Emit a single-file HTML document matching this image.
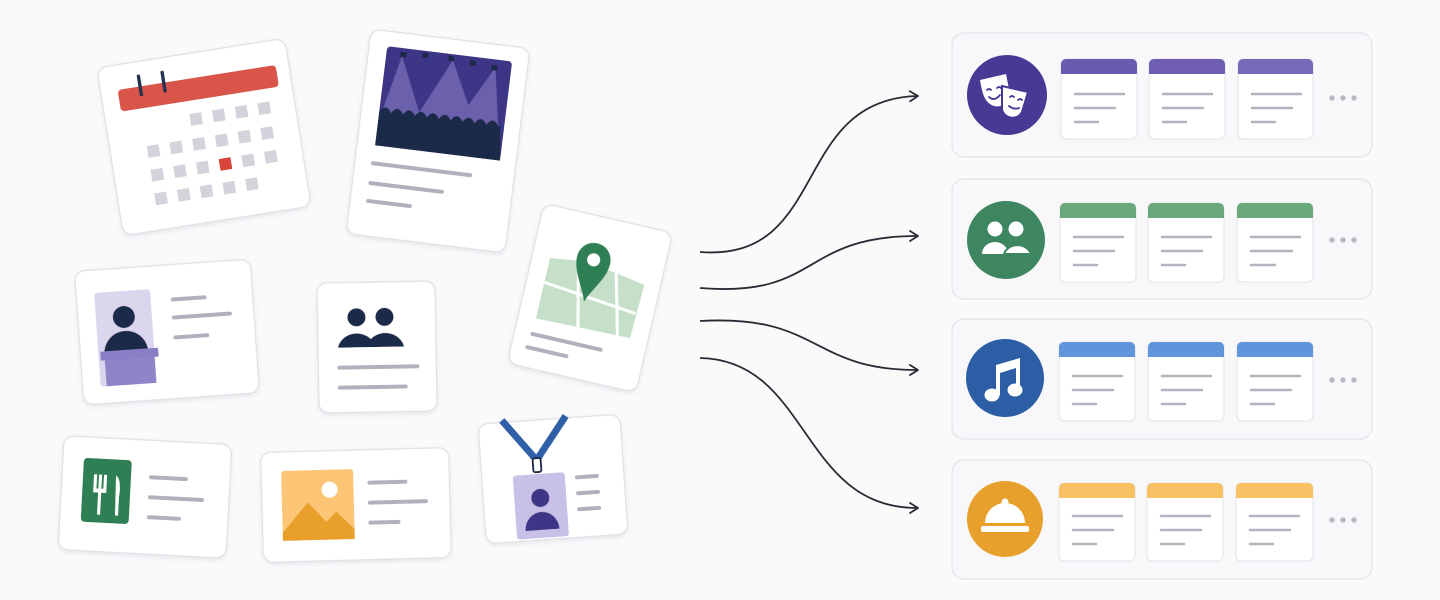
<!DOCTYPE html>
<html><head><meta charset="utf-8"><style>
html,body{margin:0;padding:0;background:#fafafb;}
svg{display:block;}
</style></head><body>
<svg width="1440" height="600" viewBox="0 0 1440 600" xmlns="http://www.w3.org/2000/svg">
<defs>
<filter id="sh" x="-20%" y="-20%" width="140%" height="140%"><feDropShadow dx="0" dy="2" stdDeviation="2.5" flood-color="#8a8aa0" flood-opacity="0.18"/></filter>
<marker id="ah" markerWidth="12" markerHeight="12" refX="9" refY="6" orient="auto" markerUnits="userSpaceOnUse"><path d="M2,1 L10,6 L2,11" fill="none" stroke="#2a2a35" stroke-width="1.8" stroke-linecap="round" stroke-linejoin="round"/></marker>
</defs>
<rect width="1440" height="600" fill="#fafafb"/>

<g stroke="#b1b0bd" stroke-width="4" stroke-linecap="round" fill="none" id="dummy"></g>

<!-- Calendar card -->
<g transform="translate(204,137) rotate(-9)" filter="url(#sh)">
<rect x="-95" y="-85" width="190" height="170" rx="10" fill="#fff" stroke="#e0dfe8" stroke-width="1.2"/>
<rect x="-78" y="-60" width="160" height="22" rx="4" fill="#d9554a"/>
<rect x="-57" y="-72" width="3.5" height="22" rx="1.5" fill="#23304f"/>
<rect x="-33" y="-72" width="3.5" height="22" rx="1.5" fill="#23304f"/>
<g fill="#d3d3dc">
<rect x="-11" y="-25" width="12" height="12"/><rect x="12" y="-25" width="12" height="12"/><rect x="35" y="-25" width="12" height="12"/><rect x="58" y="-25" width="12" height="12"/>
<rect x="-58" y="0" width="12" height="12"/><rect x="-35" y="0" width="12" height="12"/><rect x="-12" y="0" width="12" height="12"/><rect x="11" y="0" width="12" height="12"/><rect x="34" y="0" width="12" height="12"/><rect x="57" y="0" width="12" height="12"/>
<rect x="-58" y="24" width="12" height="12"/><rect x="-35" y="24" width="12" height="12"/><rect x="-12" y="24" width="12" height="12"/><rect x="34" y="24" width="12" height="12"/><rect x="57" y="24" width="12" height="12"/>
<rect x="-58" y="48" width="12" height="12"/><rect x="-35" y="48" width="12" height="12"/><rect x="-12" y="48" width="12" height="12"/><rect x="11" y="48" width="12" height="12"/><rect x="34" y="48" width="12" height="12"/>
</g>
<rect x="11" y="24" width="12" height="12" fill="#d9453a"/>
</g>

<!-- Concert card -->
<g transform="translate(438,141) rotate(7)" filter="url(#sh)">
<rect x="-80" y="-103" width="160" height="206" rx="10" fill="#fff" stroke="#e0dfe8" stroke-width="1.2"/>
<rect x="-62" y="-88" width="126" height="100" rx="4" fill="#3d3585"/>
<path d="M-46,-80 L-62,-10 L-15,-10 Z M5,-82 L-30,-10 L40,-10 Z M48,-80 L10,-10 L60,-10 Z" fill="#8a7fc6" opacity="0.6"/>
<g fill="#1e2a4a"><rect x="-48" y="-84" width="6" height="5"/><rect x="-26" y="-86" width="6" height="5"/><rect x="0" y="-86" width="6" height="5"/><rect x="22" y="-84" width="6" height="5"/><rect x="44" y="-82" width="6" height="5"/></g>
<path d="M-62,-22 q6,-10 12,0 q6,-10 12,0 q6,-10 12,0 q6,-10 12,0 q6,-10 12,0 q6,-10 12,0 q6,-10 12,0 q6,-10 12,0 q6,-10 12,0 q6,-10 12,0 l2,0 L64,12 L-62,12 Z" fill="#1e2a4a"/>
<g stroke="#b1b0bd" stroke-width="4" stroke-linecap="round"><line x1="-62" y1="30" x2="36" y2="30"/><line x1="-62" y1="50" x2="10" y2="50"/><line x1="-62" y1="68" x2="-20" y2="68"/></g>
</g>

<!-- Map card -->
<g transform="translate(590,298) rotate(13)" filter="url(#sh)">
<rect x="-66" y="-82" width="132" height="164" rx="10" fill="#fff" stroke="#e0dfe8" stroke-width="1.2"/>
<path d="M-48,-30 L-10,-35 L50,-25 L48,30 L-48,32 Z" fill="#c5dfc8"/>
<g stroke="#fff" stroke-width="3"><line x1="-48" y1="-5" x2="48" y2="5"/><line x1="-20" y1="-35" x2="-5" y2="32"/><line x1="20" y1="-30" x2="35" y2="30"/></g>
<path d="M-5,5 C-10,-10 -22,-22 -22,-38 A17,17 0 0 1 12,-38 C12,-22 0,-10 -5,5 Z" fill="#2f7f52"/>
<circle cx="-5" cy="-38" r="6.5" fill="#fff"/>
<g stroke="#b1b0bd" stroke-width="4" stroke-linecap="round"><line x1="-48" y1="48" x2="22" y2="48"/><line x1="-50" y1="62" x2="-10" y2="62"/></g>
</g>

<!-- Speaker card -->
<g transform="translate(167,332) rotate(-4)" filter="url(#sh)">
<rect x="-88" y="-67" width="176" height="134" rx="10" fill="#fff" stroke="#e0dfe8" stroke-width="1.2"/>
<rect x="-70" y="-44" width="56" height="94" rx="3" fill="#dcd5ee"/>
<circle cx="-42" cy="-18" r="11" fill="#1e2a4a"/>
<path d="M-64,18 A22,22 0 0 1 -20,18 Z" fill="#1e2a4a"/>
<rect x="-68" y="15" width="58" height="9" fill="#8a7fc6"/>
<rect x="-64" y="24" width="50" height="26" fill="#8f84c8"/>
<g stroke="#b1b0bd" stroke-width="4" stroke-linecap="round"><line x1="8" y1="-32" x2="40" y2="-32"/><line x1="8" y1="-14" x2="64" y2="-14"/><line x1="8" y1="6" x2="40" y2="6"/></g>
</g>

<!-- People card -->
<g transform="translate(377,347) rotate(-1)" filter="url(#sh)">
<rect x="-59" y="-65" width="118" height="130" rx="10" fill="#fff" stroke="#e0dfe8" stroke-width="1.2"/>
<g fill="#1e2a4a"><circle cx="-20" cy="-30" r="9"/><circle cx="8" cy="-30" r="9"/><path d="M-39,0 A19,17 0 0 1 -6,-8 A19,17 0 0 1 27,0 Z"/></g>
<g stroke="#b1b0bd" stroke-width="4" stroke-linecap="round"><line x1="-38" y1="20" x2="40" y2="20"/><line x1="-38" y1="40" x2="28" y2="40"/></g>
</g>

<!-- Restaurant card -->
<g transform="translate(145,497) rotate(3)" filter="url(#sh)">
<rect x="-84" y="-57" width="168" height="114" rx="10" fill="#fff" stroke="#e0dfe8" stroke-width="1.2"/>
<rect x="-63" y="-36" width="48" height="64" rx="4" fill="#2f7f52"/>
<g fill="#fff"><rect x="-52" y="-20" width="3" height="16"/><rect x="-47" y="-20" width="3" height="16"/><rect x="-42" y="-20" width="3" height="16"/><rect x="-52" y="-6" width="13" height="4"/><rect x="-47" y="-6" width="3" height="26"/><path d="M-30,-20 q6,4 4,22 l0,18 h-3 Z"/></g>
<g stroke="#b1b0bd" stroke-width="4" stroke-linecap="round"><line x1="5" y1="-20" x2="40" y2="-20"/><line x1="5" y1="0" x2="57" y2="0"/><line x1="5" y1="20" x2="35" y2="20"/></g>
</g>

<!-- Image card -->
<g transform="translate(356,505) rotate(-1.5)" filter="url(#sh)">
<rect x="-94" y="-55" width="188" height="110" rx="10" fill="#fff" stroke="#e0dfe8" stroke-width="1.2"/>
<rect x="-74" y="-36" width="72" height="70" rx="3" fill="#fdc676"/>
<circle cx="-26" cy="-16" r="8" fill="#fff"/>
<path d="M-74,26 L-48,-4 L-30,16 L-20,6 L-2,24 L-2,34 L-74,34 Z" fill="#e8a02c"/>
<g stroke="#b1b0bd" stroke-width="4" stroke-linecap="round"><line x1="14" y1="-22" x2="50" y2="-22"/><line x1="14" y1="-2" x2="70" y2="-2"/><line x1="14" y1="18" x2="42" y2="18"/></g>
</g>

<!-- Badge card -->
<g transform="translate(553,479) rotate(-4)" filter="url(#sh)">
<rect x="-71" y="-60" width="142" height="120" rx="10" fill="#fff" stroke="#e0dfe8" stroke-width="1.2"/>
<path d="M-47,-62 L-15,-20 L17,-62" fill="none" stroke="#2d5fa8" stroke-width="7"/>
<rect x="-19" y="-22" width="8" height="14" rx="2" fill="#fff" stroke="#1e2a4a" stroke-width="2"/>
<rect x="-40" y="-6" width="52" height="64" rx="3" fill="#c9c0e8"/>
<circle cx="-14" cy="18" r="9" fill="#3d3585"/>
<path d="M-31,50 A17,18 0 0 1 3,50 Z" fill="#3d3585"/>
<g stroke="#b1b0bd" stroke-width="4" stroke-linecap="round"><line x1="24" y1="0" x2="44" y2="0"/><line x1="24" y1="16" x2="44" y2="16"/><line x1="24" y1="32" x2="44" y2="32"/></g>
</g>

<!-- Arrows -->
<g fill="none" stroke="#2a2a35" stroke-width="1.8" marker-end="url(#ah)">
<path d="M700,252 C830,262 790,100 917,96"/>
<path d="M700,288 C820,298 800,236 917,236"/>
<path d="M700,321 C820,314 810,370 917,370"/>
<path d="M700,358 C810,360 800,508 917,508"/>
</g>

<!-- Right rows -->
<g id="rows">
<rect x="952" y="33" width="420" height="124" rx="12" fill="#f8f8fa" stroke="#e3e2ea" stroke-width="1.2"/>
<rect x="952" y="179" width="420" height="120" rx="12" fill="#f8f8fa" stroke="#e3e2ea" stroke-width="1.2"/>
<rect x="952" y="319" width="420" height="120" rx="12" fill="#f8f8fa" stroke="#e3e2ea" stroke-width="1.2"/>
<rect x="952" y="460" width="420" height="119" rx="12" fill="#f8f8fa" stroke="#e3e2ea" stroke-width="1.2"/>
</g>

<!-- row1 -->
<circle cx="1007" cy="95" r="40" fill="#463a94"/>
<g fill="#fff">
<path d="M980,80 L1006,74 L1010,94 C1010,104 998,110 990,104 C984,100 982,92 980,80 Z"/>
<path d="M1002,86 L1028,92 L1022,112 C1018,120 1006,120 1002,110 Z" stroke="#463a94" stroke-width="2"/>
</g>
<g fill="none" stroke="#463a94" stroke-width="1.8" stroke-linecap="round"><path d="M987,90 q2,-2 4,0 M997,88 q2,-2 4,0 M989,97 q5,5 11,-2"/><path d="M1010,97 q2,-2 4,0 M1018,100 q2,-2 4,0 M1009,106 q5,4 10,2"/></g>

<!-- row2 -->
<circle cx="1006" cy="240" r="39" fill="#3e8660"/>
<g fill="#fff"><circle cx="995" cy="229" r="7.5"/><circle cx="1016" cy="229" r="7.5"/><path d="M982,254 A13,12 0 0 1 1008,254 Z"/><path d="M1004,254 A14,12 0 0 1 1031,254 Z" stroke="#3e8660" stroke-width="2"/></g>

<!-- row3 -->
<circle cx="1005" cy="378" r="39" fill="#2b5ea5"/>
<g fill="#fff"><path d="M996,365 L1020,358 L1020,390 h-4 L1016,368 L1000,373 L1000,395 h-4 Z"/><ellipse cx="992" cy="395" rx="7.5" ry="6.5"/><ellipse cx="1015" cy="390" rx="7.5" ry="6.5"/></g>

<!-- row4 -->
<circle cx="1005" cy="519" r="38" fill="#e8a02c"/>
<g fill="#fff"><circle cx="1005" cy="502" r="3.5"/><path d="M985,523 A20,20 0 0 1 1025,523 Z"/><rect x="981" y="526" width="48" height="6" rx="2"/></g>

<!-- mini cards -->
<g id="minis">
<g>
<rect x="1061" y="59" width="76" height="80" rx="5" fill="#fff" stroke="#e3e2ea"/><path d="M1061,74 V64 a5,5 0 0 1 5,-5 h66 a5,5 0 0 1 5,5 V74 Z" fill="#6b5bb0"/>
<rect x="1149" y="59" width="76" height="80" rx="5" fill="#fff" stroke="#e3e2ea"/><path d="M1149,74 V64 a5,5 0 0 1 5,-5 h66 a5,5 0 0 1 5,5 V74 Z" fill="#6e5db1"/>
<rect x="1238" y="59" width="75" height="80" rx="5" fill="#fff" stroke="#e3e2ea"/><path d="M1238,74 V64 a5,5 0 0 1 5,-5 h65 a5,5 0 0 1 5,5 V74 Z" fill="#7868b8"/>
</g>
<g>
<rect x="1060" y="203" width="76" height="79" rx="5" fill="#fff" stroke="#e3e2ea"/><path d="M1060,218 V208 a5,5 0 0 1 5,-5 h66 a5,5 0 0 1 5,5 V218 Z" fill="#6aa97c"/>
<rect x="1148" y="203" width="76" height="79" rx="5" fill="#fff" stroke="#e3e2ea"/><path d="M1148,218 V208 a5,5 0 0 1 5,-5 h66 a5,5 0 0 1 5,5 V218 Z" fill="#6aa97c"/>
<rect x="1237" y="203" width="76" height="79" rx="5" fill="#fff" stroke="#e3e2ea"/><path d="M1237,218 V208 a5,5 0 0 1 5,-5 h66 a5,5 0 0 1 5,5 V218 Z" fill="#6aa97c"/>
</g>
<g>
<rect x="1059" y="342" width="76" height="79" rx="5" fill="#fff" stroke="#e3e2ea"/><path d="M1059,357 V347 a5,5 0 0 1 5,-5 h66 a5,5 0 0 1 5,5 V357 Z" fill="#5f95db"/>
<rect x="1148" y="342" width="76" height="79" rx="5" fill="#fff" stroke="#e3e2ea"/><path d="M1148,357 V347 a5,5 0 0 1 5,-5 h66 a5,5 0 0 1 5,5 V357 Z" fill="#5f95db"/>
<rect x="1237" y="342" width="76" height="79" rx="5" fill="#fff" stroke="#e3e2ea"/><path d="M1237,357 V347 a5,5 0 0 1 5,-5 h66 a5,5 0 0 1 5,5 V357 Z" fill="#5f95db"/>
</g>
<g>
<rect x="1059" y="483" width="76" height="78" rx="5" fill="#fff" stroke="#e3e2ea"/><path d="M1059,498 V488 a5,5 0 0 1 5,-5 h66 a5,5 0 0 1 5,5 V498 Z" fill="#f8c264"/>
<rect x="1147" y="483" width="76" height="78" rx="5" fill="#fff" stroke="#e3e2ea"/><path d="M1147,498 V488 a5,5 0 0 1 5,-5 h66 a5,5 0 0 1 5,5 V498 Z" fill="#f8c264"/>
<rect x="1236" y="483" width="77" height="78" rx="5" fill="#fff" stroke="#e3e2ea"/><path d="M1236,498 V488 a5,5 0 0 1 5,-5 h67 a5,5 0 0 1 5,5 V498 Z" fill="#f8c264"/>
</g>
</g>

<g stroke="#b4b3c0" stroke-width="2.5" stroke-linecap="round">
<!-- row1 lines -->
<path d="M1075,94 H1124 M1075,108 H1115 M1075,122 H1098"/>
<path d="M1163,94 H1212 M1163,108 H1203 M1163,122 H1186"/>
<path d="M1252,94 H1301 M1252,108 H1292 M1252,122 H1275"/>
<!-- row2 -->
<path d="M1074,237 H1123 M1074,251 H1114 M1074,265 H1097"/>
<path d="M1162,237 H1211 M1162,251 H1202 M1162,265 H1185"/>
<path d="M1251,237 H1300 M1251,251 H1292 M1251,265 H1275"/>
<!-- row3 -->
<path d="M1073,376 H1122 M1073,390 H1113 M1073,404 H1096"/>
<path d="M1162,376 H1211 M1162,390 H1202 M1162,404 H1185"/>
<path d="M1251,376 H1300 M1251,390 H1291 M1251,404 H1274"/>
<!-- row4 -->
<path d="M1073,516 H1122 M1073,530 H1113 M1073,544 H1096"/>
<path d="M1161,516 H1210 M1161,530 H1201 M1161,544 H1184"/>
<path d="M1250,516 H1299 M1250,530 H1290 M1250,544 H1273"/>
</g>

<g fill="#b9b8c4">
<circle cx="1332" cy="98" r="2.7"/><circle cx="1343" cy="98" r="2.7"/><circle cx="1354" cy="98" r="2.7"/>
<circle cx="1332" cy="240" r="2.7"/><circle cx="1343" cy="240" r="2.7"/><circle cx="1354" cy="240" r="2.7"/>
<circle cx="1332" cy="380" r="2.7"/><circle cx="1343" cy="380" r="2.7"/><circle cx="1354" cy="380" r="2.7"/>
<circle cx="1332" cy="520" r="2.7"/><circle cx="1343" cy="520" r="2.7"/><circle cx="1354" cy="520" r="2.7"/>
</g>
</svg>
</body></html>
